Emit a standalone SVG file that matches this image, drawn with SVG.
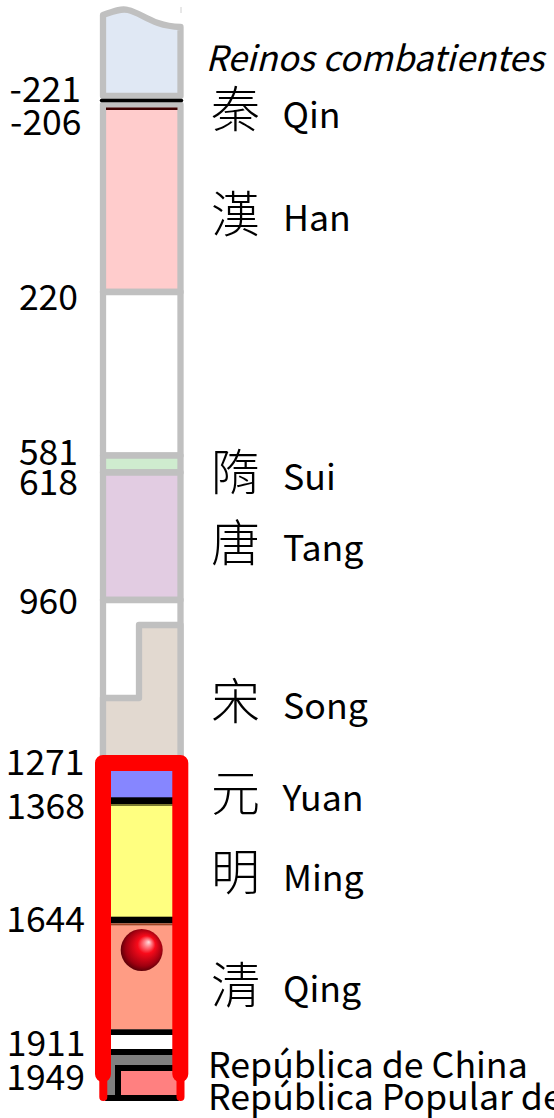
<svg xmlns="http://www.w3.org/2000/svg" width="554" height="1118" viewBox="0 0 554 1118">
<style>
text{font-family:"Noto Sans CJK SC","Noto Sans CJK TC",sans-serif;fill:#000}
.y{font-size:35.500px;text-anchor:end}
.n{font-size:35.700px}
.h{font-size:49px;font-family:"Noto Sans CJK TC",sans-serif;font-weight:300}
.b{stroke:#c0c0c0;stroke-width:6.300;stroke-linejoin:round}
</style>
<defs>
<radialGradient id="ball" cx="0.5" cy="0.5" r="0.62" fx="0.67" fy="0.31">
<stop offset="0" stop-color="#ffe0e0"/><stop offset="0.14" stop-color="#ff8088"/><stop offset="0.34" stop-color="#f80a1a"/><stop offset="0.7" stop-color="#a00010"/><stop offset="1" stop-color="#200000"/>
</radialGradient>
</defs>
<g id="bar">
<path d="M181 7V13" stroke="#d0d0d0" stroke-width="1"/>
<path class="b" fill="#e0e8f4" d="M103 15C112 12 120 8 128 10C142 13 152 26 180.500 27V96H103Z"/>
<rect class="b" x="103" y="104.500" width="77.500" height="187.500" fill="#ffcccc"/>
<rect x="106" y="107.500" width="71.500" height="2.500" fill="#3c0000"/>
<path d="M101.500 100.500H181.500" stroke="#000" stroke-width="3.500" stroke-linecap="round"/>
<rect class="b" x="103" y="292" width="77.500" height="163.500" fill="#fff"/>
<rect class="b" x="103" y="455.700" width="77.500" height="16.800" fill="#cfeccf"/>
<rect class="b" x="103" y="472.500" width="77.500" height="127.500" fill="#e2cce2"/>
<rect class="b" x="103" y="600" width="77.500" height="161" fill="#fff"/>
<path class="b" fill="#e2d9d0" d="M103 698H139V625H180.500V765H103Z"/>
</g>
<g id="lower">
<rect x="108" y="770" width="70" height="30" fill="#8686ff"/>
<rect x="108" y="797.300" width="70" height="7" fill="#000"/>
<rect x="108" y="804" width="70" height="2" fill="#7a7a30"/>
<rect x="108" y="806" width="70" height="112" fill="#ffff80"/>
<rect x="108" y="916.700" width="70" height="6.600" fill="#000"/>
<rect x="108" y="923.300" width="70" height="2.400" fill="#a04020"/>
<rect x="108" y="925.700" width="70" height="104" fill="#ff9c84"/>
<circle cx="141.700" cy="950" r="21" fill="url(#ball)"/>
<rect x="108" y="1029.300" width="70" height="5.700" fill="#000"/>
<rect x="108" y="1035" width="70" height="14" fill="#fff"/>
<rect x="108" y="1049" width="70" height="6" fill="#000"/>
<rect x="106" y="1055" width="72" height="41" fill="#808080"/>
<rect x="121" y="1071" width="57" height="25" fill="#ff8080"/>
<path d="M118 1096V1068H178M105 1098H179" fill="none" stroke="#000" stroke-width="6"/>
</g>
<g id="frame" fill="none" stroke="#f00" stroke-linejoin="round" stroke-linecap="round">
<path stroke-width="16" d="M103 1074V763H180.300V1074"/>
<path stroke-width="8" d="M103.300 1076V1097M180.500 1076V1097"/>
</g>
<g id="labels">
<text class="y" x="81" y="102">-221</text>
<text class="y" x="81.500" y="135">-206</text>
<text class="y" x="78" y="310">220</text>
<text class="y" x="78" y="465">581</text>
<text class="y" x="78" y="495">618</text>
<text class="y" x="78" y="614">960</text>
<text class="y" x="84.500" y="775">1271</text>
<text class="y" x="85" y="819">1368</text>
<text class="y" x="85" y="932">1644</text>
<text class="y" x="85.500" y="1056">1911</text>
<text class="y" x="85" y="1090">1949</text>
<text x="205.500" y="70.500" font-size="34.800" font-style="italic">Reinos combatientes</text>
<text class="h" x="211" y="127">秦</text><text class="n" x="282.500" y="128">Qin</text>
<text class="h" x="211" y="232">漢</text><text class="n" x="283" y="231">Han</text>
<text class="h" x="211" y="490">隋</text><text class="n" x="283" y="490">Sui</text>
<text class="h" x="211" y="561">唐</text><text class="n" x="283" y="561">Tang</text>
<text class="h" x="211" y="719">宋</text><text class="n" x="283" y="719">Song</text>
<text class="h" x="211" y="811">元</text><text class="n" x="282.500" y="810.500">Yuan</text>
<text class="h" x="211" y="890">明</text><text class="n" x="283" y="891">Ming</text>
<text class="h" x="211" y="1003">清</text><text class="n" x="283" y="1002">Qing</text>
<text class="n" x="208" y="1078">República de China</text>
<text class="n" x="208" y="1110">República Popular de</text>
</g>
</svg>
